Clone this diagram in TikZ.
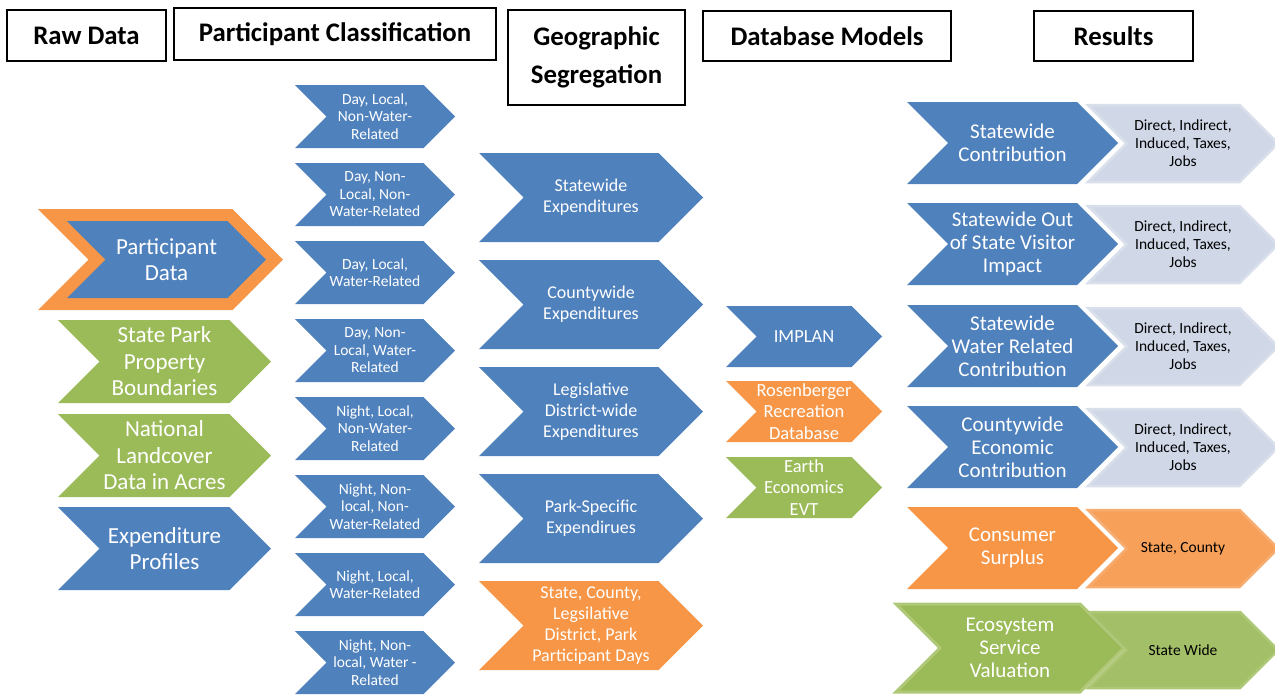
\documentclass[tikz,border=0pt]{standalone}
\usepackage{fontspec}
\setmainfont{Carlito}
\usepackage{tikz}
\definecolor{chblue}{HTML}{4F81BD}
\definecolor{chorange}{HTML}{F79646}
\definecolor{chgreen}{HTML}{9BBB59}
\definecolor{chlight}{HTML}{D0D8E8}
\definecolor{chlightedge}{HTML}{D9DFEB}
\definecolor{chorangeb}{HTML}{F7A05A}
\definecolor{chorangeedge}{HTML}{F8AC70}
\definecolor{chgreenb}{HTML}{A3BF67}
\definecolor{chgreenedge}{HTML}{AEC878}
% chevron: name, shape style, text style, x, y, width, height, text
\newcommand{\chev}[8]{%
\path[#2] (#4,#5) -- ++({#6-#7/2},0) -- ++({#7/2},{#7/2}) -- ++({-#7/2},{#7/2})
-- ++({-#6+#7/2},0) -- ++({#7/2},{-#7/2}) -- cycle;
\node[#3] (#1) at ({#4+#6/2},{#5+#7/2}) {#8};}
\tikzset{
hdr/.style={draw=black, line width=1.8pt, fill=white, inner sep=0pt, align=center,
  font=\bfseries\fontsize{26.8}{38}\selectfont},
blueshape/.style={fill=chblue},
orangeshape/.style={fill=chorange},
greenshape/.style={fill=chgreen},
lightshape/.style={fill=chlight, draw=chlightedge, line width=2.5pt, line join=miter},
orangebshape/.style={fill=chorangeb, draw=chorangeedge, line width=2.5pt, line join=miter},
greenbshape/.style={fill=chgreenb, draw=chgreenedge, line width=2.5pt, line join=miter},
ecoshape/.style={fill=chgreen, draw=chgreenedge, line width=3pt, line join=miter},
rawtxt/.style={text=white, align=center, inner sep=0pt, font=\fontsize{23}{26.5}\selectfont},
classtxt/.style={text=white, align=center, inner sep=0pt, font=\fontsize{15.5}{17.5}\selectfont},
geotxt/.style={text=white, align=center, inner sep=0pt, font=\fontsize{18}{21}\selectfont},
dbtxt/.style={text=white, align=center, inner sep=0pt, font=\fontsize{18.5}{21.5}\selectfont},
restxt/.style={text=white, align=center, inner sep=0pt, font=\fontsize{21}{23}\selectfont},
outtxt/.style={text=black, align=center, inner sep=0pt, font=\fontsize{15.5}{18}\selectfont}
}
\begin{document}
\begin{tikzpicture}[x=1pt,y=-1pt]
\useasboundingbox (0,0) rectangle (1275,694);
% headers
\node[hdr, minimum width=159pt, minimum height=51pt] (rawdata) at (86.5,35.5) {Raw Data};
\node[hdr, minimum width=322pt, minimum height=52pt] (classif) at (335,34) {Participant Classification};
\node[hdr, minimum width=177pt, minimum height=95pt] (geoseg) at (596.5,57.5) {Geographic\\Segregation};
\node[hdr, minimum width=248pt, minimum height=50pt] (dbmodels) at (827,36) {Database Models};
\node[hdr, minimum width=159pt, minimum height=50pt] (results) at (1113.5,36) {Results};
% Raw Data
\path[orangeshape] (38,209) -- ++(194.5,0) -- ++(50.5,50.5) -- ++(-50.5,50.5)
-- ++(-194.5,0) -- ++(50.5,-50.5) -- cycle;
\chev{partdata}{blueshape}{rawtxt}{67}{221}{199}{77}{Participant\\Data}
\chev{parkbound}{greenshape}{rawtxt}{58}{320}{213}{83}{State Park\\Property\\Boundaries}
\chev{landcover}{greenshape}{rawtxt}{58}{414}{213}{83}{National\\Landcover\\Data in Acres}
\chev{expprof}{blueshape}{rawtxt}{58}{507}{213}{83}{Expenditure\\Profiles}
% Participant Classification
\chev{dlnw}{blueshape}{classtxt}{295}{85}{160}{63}{Day, Local,\\Non-Water-\\Related}
\chev{dnnw}{blueshape}{classtxt}{295}{163}{160}{63}{Day, Non-\\Local, Non-\\Water-Related}
\chev{dlw}{blueshape}{classtxt}{295}{241}{160}{63}{Day, Local,\\Water-Related}
\chev{dnw}{blueshape}{classtxt}{295}{319}{160}{63}{Day, Non-\\Local, Water-\\Related}
\chev{nlnw}{blueshape}{classtxt}{295}{397}{160}{63}{Night, Local,\\Non-Water-\\Related}
\chev{nnnw}{blueshape}{classtxt}{295}{475}{160}{63}{Night, Non-\\local, Non-\\Water-Related}
\chev{nlw}{blueshape}{classtxt}{295}{553}{160}{63}{Night, Local,\\Water-Related}
\chev{nnw}{blueshape}{classtxt}{295}{631}{160}{63}{Night, Non-\\local, Water -\\Related}
% Geographic Segregation
\chev{stateexp}{blueshape}{geotxt}{479}{153}{224}{89}{Statewide\\Expenditures}
\chev{countyexp}{blueshape}{geotxt}{479}{260}{224}{89}{Countywide\\Expenditures}
\chev{legexp}{blueshape}{geotxt}{479}{367}{224}{89}{Legislative\\District-wide\\Expenditures}
\chev{parkexp}{blueshape}{geotxt}{479}{474}{224}{89}{Park-Specific\\Expendirues}
\chev{partdays}{orangeshape}{geotxt}{479}{581}{224}{89}{State, County,\\Legsilative\\District, Park\\Participant Days}
% Database Models
\chev{implan}{blueshape}{dbtxt}{726}{306}{156}{61}{IMPLAN}
\chev{rosen}{orangeshape}{dbtxt}{726}{381}{156}{61}{Rosenberger\\Recreation\\Database}
\chev{evt}{greenshape}{dbtxt}{726}{457}{156}{61}{Earth\\Economics\\EVT}
% Results
\chev{statecon}{blueshape}{restxt}{907}{102}{211}{82}{Statewide\\Contribution}
\chev{visitor}{blueshape}{restxt}{907}{203}{211}{82}{Statewide Out\\of State Visitor\\Impact}
\chev{watercon}{blueshape}{restxt}{907}{305}{211}{82}{Statewide\\Water Related\\Contribution}
\chev{countycon}{blueshape}{restxt}{907}{406}{211}{82}{Countywide\\Economic\\Contribution}
\chev{surplus}{orangeshape}{restxt}{907}{507}{211}{82}{Consumer\\Surplus}
\chev{ecoval}{ecoshape}{restxt}{896}{604}{228}{88}{Ecosystem\\Service\\Valuation}
\chev{statecon-o}{lightshape}{outtxt}{1088}{105}{190}{77}{Direct, Indirect,\\Induced, Taxes,\\Jobs}
\chev{visitor-o}{lightshape}{outtxt}{1088}{206}{190}{77}{Direct, Indirect,\\Induced, Taxes,\\Jobs}
\chev{watercon-o}{lightshape}{outtxt}{1088}{308}{190}{77}{Direct, Indirect,\\Induced, Taxes,\\Jobs}
\chev{countycon-o}{lightshape}{outtxt}{1088}{409}{190}{77}{Direct, Indirect,\\Induced, Taxes,\\Jobs}
\chev{surplus-o}{orangebshape}{outtxt}{1088}{510}{190}{77}{State, County}
\chev{ecoval-o}{greenbshape}{outtxt}{1088}{612}{190}{76}{State Wide}
\end{tikzpicture}
\end{document}
